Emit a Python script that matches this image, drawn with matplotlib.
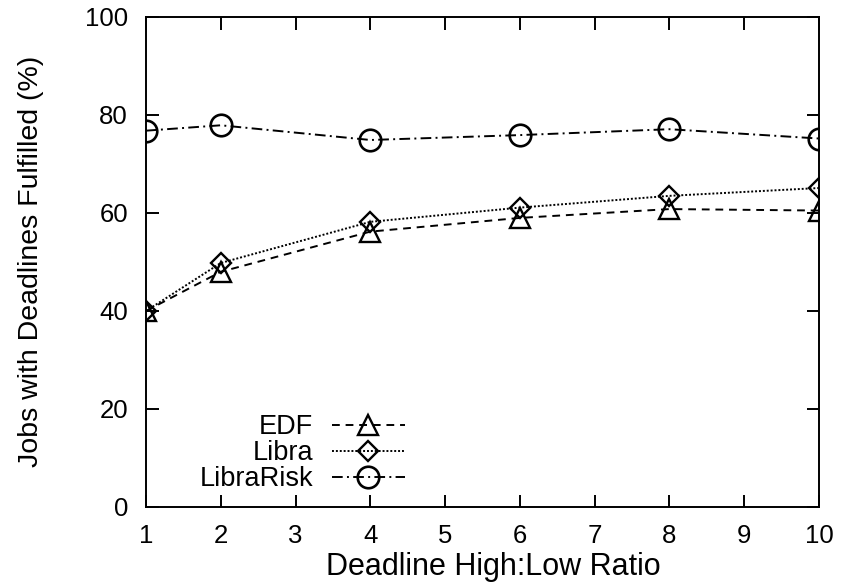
# Deadline ratio chart, gnuplot look
import matplotlib
matplotlib.use('Agg')
import matplotlib.pyplot as plt

plt.rcParams['font.family'] = ['Liberation Sans', 'DejaVu Sans']

# data
ratios = [1, 2, 4, 6, 8, 10]
edf = [40.0, 48.0, 56.2, 59.0, 60.8, 60.5]
libra = [40.0, 49.8, 58.2, 61.1, 63.5, 65.1]
libra_risk = [76.8, 77.9, 74.9, 75.9, 77.1, 75.2]

x_ticks = list(range(1, 11))
y_ticks = [0, 20, 40, 60, 80, 100]

fig = plt.figure(figsize=(8.46, 5.88), dpi=100)
ax = fig.add_axes([146 / 846, 1 - 507 / 588, (819 - 146) / 846, (507 - 17) / 588])

lw = 1.4
ax.plot(ratios, edf, color='black', linewidth=lw, dashes=(4, 3),
        marker='^', markersize=14, markerfacecolor='none',
        markeredgewidth=1.7, label='EDF')
ax.plot(ratios, libra, color='black', linewidth=lw, dashes=(1, 1),
        marker='D', markersize=10.5, markerfacecolor='none',
        markeredgewidth=1.7, label='Libra')
ax.plot(ratios, libra_risk, color='black', linewidth=lw, dashes=(5.5, 2.2, 1, 2.2),
        marker='o', markersize=15.5, markerfacecolor='none',
        markeredgewidth=1.9, label='LibraRisk')

ax.set_xlim(1, 10)
ax.set_ylim(0, 100)
ax.set_xticks(x_ticks)
ax.set_yticks(y_ticks)

for spine in ax.spines.values():
    spine.set_linewidth(1.4)

ax.tick_params(direction='in', length=9, width=1.4, top=True, right=True,
               labelsize=18.5)
ax.tick_params(axis='x', pad=12)
ax.tick_params(axis='y', pad=13)

# axis titles
fig.text(493 / 846, 1 - 567 / 588, 'Deadline High:Low Ratio',
         ha='center', va='center', fontsize=22)
fig.text(31 / 846, 1 - 261 / 588, 'Jobs with Deadlines Fulfilled (%)',
         ha='center', va='center', rotation=90, fontsize=20.5)

# legend: text on the left, sample on the right
leg = ax.legend(loc='lower right', bbox_to_anchor=(405 / 846, 1 - 492 / 588),
                bbox_transform=fig.transFigure, frameon=False, markerfirst=False,
                fontsize=19.5, handlelength=2.7, handletextpad=0.7,
                labelspacing=0.0, borderpad=0, borderaxespad=0)

plt.savefig('out.png', dpi=100)
plt.close()
